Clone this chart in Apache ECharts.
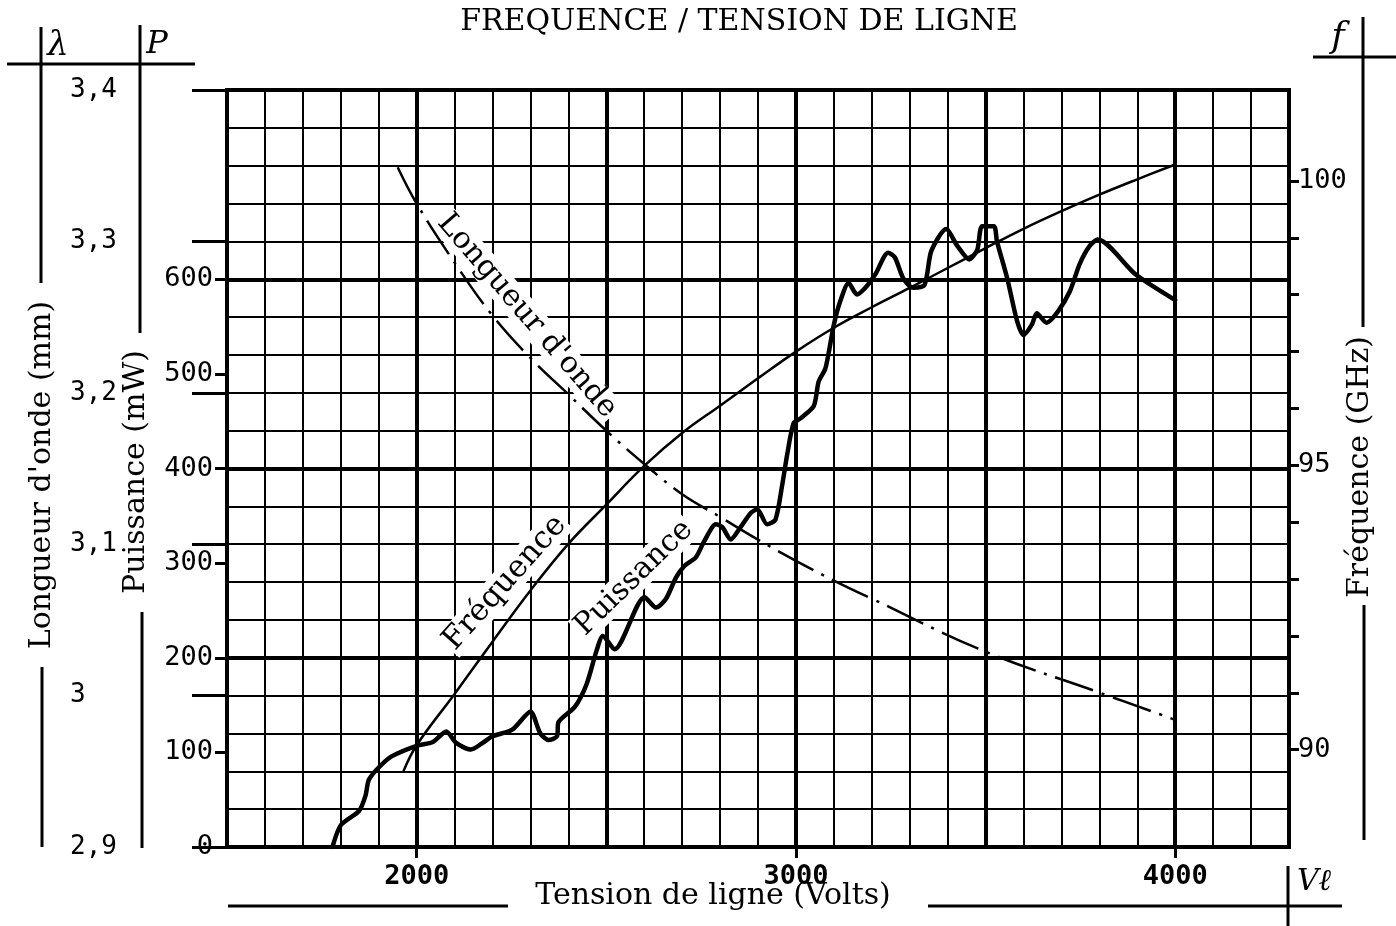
<!DOCTYPE html>
<html>
<head>
<meta charset="utf-8">
<script src="https://cdn.jsdelivr.net/npm/echarts@6/dist/echarts.min.js"></script>
<style>
html,body{margin:0;padding:0;background:#fff;}
#c{width:1396px;height:926px;}
</style>
</head>
<body>
<div id="c"></div>
<script>
// ---- data ----
const voltageMin = 1500;
const voltageMax = 4300;
const voltageLabels = [2000, 3000, 4000];
const powerLabels = [0, 100, 200, 300, 400, 500, 600];
const powerMax = 800;
const wavelengthMin = 2.9;
const wavelengthMax = 3.4;
const freqMin = 88.29;
const freqMax = 101.6;
const freqLabels = [90, 95, 100];
const freqTicks = [90, 91, 92, 93, 94, 95, 96, 97, 98, 99, 100];

// Puissance (mW) vs tension (V)
const powerData = [
  [1778,0],[1800,23],[1848,38],[1865,54],[1874,71],[1900,84],[1935,96],[2000,107],
  [2043,111],[2078,122],[2104,110],[2143,103],[2174,110],[2200,117],[2252,124],
  [2300,143],[2326,120],[2348,113],[2370,117],[2374,132],[2417,148],[2448,172],
  [2474,207],[2491,223],[2522,209],[2601,264],[2631,253],[2657,262],[2684,285],
  [2706,297],[2736,306],[2758,323],[2789,341],[2806,338],[2828,325],[2854,338],
  [2881,353],[2898,357],[2924,341],[2946,346],[2964,383],[2977,415],[2994,448],
  [3012,453],[3047,466],[3060,492],[3078,506],[3100,552],[3117,577],[3139,596],
  [3161,584],[3183,591],[3209,605],[3243,628],[3261,623],[3283,601],[3309,591],
  [3339,594],[3357,630],[3396,653],[3426,635],[3457,621],[3478,631],[3491,656],
  [3522,656],[3530,640],[3557,601],[3583,556],[3600,541],[3622,552],[3635,564],
  [3661,554],[3691,566],[3722,587],[3748,616],[3774,635],[3796,642],[3896,605],
  [4000,578]
];

// Fréquence (GHz) vs tension (V)
const freqData = [
  [1965,89.62],[2000,90.08],[2100,90.98],[2200,91.90],[2300,92.80],[2400,93.62],
  [2500,94.31],[2600,94.99],[2700,95.57],[2800,96.05],[2900,96.53],[3000,97.00],
  [3100,97.42],[3200,97.78],[3300,98.12],[3400,98.47],[3500,98.82],[3600,99.16],
  [3700,99.47],[3800,99.76],[3900,100.03],[4000,100.29]
];

// Longueur d'onde (mm) vs tension (V)
const wavelengthData = [
  [1950,3.349],[2000,3.325],[2100,3.286],[2200,3.251],[2300,3.223],[2400,3.199],
  [2500,3.175],[2600,3.153],[2700,3.133],[2800,3.118],[2900,3.103],[3000,3.089],
  [3100,3.076],[3200,3.064],[3500,3.029],[3800,3.002],[4000,2.984]
];

// ---- styles ----
const SERIF = '"DejaVu Serif", "Liberation Serif", serif';
const DIGITS = '"DejaVu Sans Mono", "Liberation Mono", monospace';
const INK = '#000';

const chart = echarts.init(document.getElementById('c'), null, {renderer: 'canvas'});

function wlFmt(v) {
  const s = (Math.round(v * 10) / 10).toFixed(1);
  return s.endsWith('.0') ? s.slice(0, -2) : s.replace('.', ',');
}

function hLine(x1, y1, x2, y2, w) {
  return {type: 'line', shape: {x1, y1, x2, y2}, style: {stroke: INK, lineWidth: w || 3}, silent: true};
}
function txt(x, y, text, size, opts) {
  opts = opts || {};
  return {
    type: 'text', x, y, rotation: opts.rotation || 0, z: opts.z || 1, silent: true,
    style: Object.assign({
      text, fill: INK, font: (opts.italic ? 'italic ' : '') + size + 'px ' + (opts.family || SERIF),
      align: 'center', verticalAlign: 'middle'
    }, opts.style || {})
  };
}

const option = {
  animation: false,
  backgroundColor: '#fff',
  grid: {left: 227, right: 107, top: 90, bottom: 79, show: true, borderColor: INK, borderWidth: 4, backgroundColor: 'transparent'},
  xAxis: [
    {type: 'value', min: voltageMin, max: voltageMax, interval: 100,
     axisLine: {show: false}, axisTick: {show: false}, axisLabel: {show: false},
     splitLine: {show: true, lineStyle: {color: INK, width: 2}}},
    {type: 'value', min: voltageMin, max: voltageMax, interval: 500,
     axisLine: {show: false}, axisTick: {show: false}, axisLabel: {show: false},
     splitLine: {show: true, lineStyle: {color: INK, width: 4}}},
    {type: 'value', min: voltageMin, max: voltageMax, position: 'bottom',
     axisLine: {show: false},
     axisTick: {show: true, customValues: voltageLabels, length: 11, lineStyle: {color: INK, width: 3}},
     axisLabel: {show: true, customValues: voltageLabels, margin: 16, color: INK,
                 formatter: v => String(v),
                 fontFamily: DIGITS, fontSize: 27, fontWeight: 'bold'},
     splitLine: {show: false}}
  ],
  yAxis: [
    {type: 'value', min: 0, max: powerMax, interval: 40,
     axisLine: {show: false}, axisTick: {show: false}, axisLabel: {show: false},
     splitLine: {show: true, lineStyle: {color: INK, width: 2}}},
    {type: 'value', min: 0, max: powerMax, interval: 200,
     axisLine: {show: false}, axisTick: {show: false}, axisLabel: {show: false},
     splitLine: {show: true, lineStyle: {color: INK, width: 4}}},
    {type: 'value', min: 0, max: powerMax, position: 'left',
     axisLine: {show: false},
     axisTick: {show: true, customValues: powerLabels, length: 12, lineStyle: {color: INK, width: 3}},
     axisLabel: {show: true, customValues: powerLabels, margin: 14, color: INK,
                 formatter: v => String(v),
                 fontFamily: DIGITS, fontSize: 27},
     splitLine: {show: false}},
    {type: 'value', min: wavelengthMin, max: wavelengthMax, interval: 0.1, position: 'left',
     axisLine: {show: false},
     axisTick: {show: true, length: 35, lineStyle: {color: INK, width: 3}},
     axisLabel: {show: true, formatter: wlFmt, align: 'left', margin: 157, color: INK,
                 fontFamily: DIGITS, fontSize: 26},
     splitLine: {show: false}},
    {type: 'value', min: freqMin, max: freqMax, position: 'right',
     axisLine: {show: false},
     axisTick: {show: true, customValues: freqTicks, length: 10, lineStyle: {color: INK, width: 3}},
     axisLabel: {show: true, customValues: freqLabels, margin: 9, color: INK,
                 formatter: v => String(v),
                 fontFamily: DIGITS, fontSize: 27},
     splitLine: {show: false}}
  ],
  series: [
    {name: 'Puissance', type: 'line', xAxisIndex: 0, yAxisIndex: 0, data: powerData,
     showSymbol: false, symbol: 'none', smooth: 0.25, z: 3,
     lineStyle: {color: INK, width: 4.5, cap: 'round', join: 'round'}},
    {name: 'Fréquence', type: 'line', xAxisIndex: 0, yAxisIndex: 4, data: freqData,
     showSymbol: false, symbol: 'none', smooth: 0.4, z: 3,
     lineStyle: {color: INK, width: 2.5}},
    {name: "Longueur d'onde", type: 'line', xAxisIndex: 0, yAxisIndex: 3, data: wavelengthData,
     showSymbol: false, symbol: 'none', smooth: 0.4, z: 3,
     lineStyle: {color: INK, width: 2.5, type: [40, 9, 3, 9]}}
  ],
  graphic: [
    txt(739, 22, 'FREQUENCE / TENSION DE LIGNE', 30),
    // left headers
    hLine(7, 64, 195, 64, 3),
    hLine(41, 27, 41, 283, 3),
    hLine(42, 667, 42, 847, 3),
    hLine(140, 25, 140, 333, 3),
    hLine(142, 612, 142, 848, 3),
    txt(58, 46, 'λ', 34, {italic: true}),
    txt(157, 45, 'P', 32, {italic: true}),
    txt(42, 475, "Longueur d'onde (mm)", 30, {rotation: Math.PI / 2}),
    txt(136, 472, 'Puissance (mW)', 30, {rotation: Math.PI / 2}),
    // right header
    hLine(1313, 57, 1396, 57, 3),
    hLine(1363, 17, 1363, 327, 3),
    hLine(1364, 605, 1364, 840, 3),
    txt(1338, 38, 'f', 36, {italic: true}),
    txt(1360, 467, 'Fréquence (GHz)', 30, {rotation: Math.PI / 2}),
    // bottom
    hLine(228, 906, 508, 906, 3),
    hLine(928, 906, 1342, 906, 3),
    hLine(1288, 866, 1288, 926, 3),
    txt(713, 896, 'Tension de ligne (Volts)', 30),
    txt(1314, 882, 'Vℓ', 30, {italic: true}),
    // curve labels
    txt(527, 316, "Longueur d'onde", 30, {rotation: -0.86, z: 1, style: {backgroundColor: '#fff', padding: [0, 2]}}),
    txt(505, 583, 'Fréquence', 31, {rotation: 0.845, z: 1, style: {backgroundColor: '#fff', padding: [0, 2]}}),
    txt(634, 578, 'Puissance', 30, {rotation: 0.77, z: 1, style: {backgroundColor: '#fff', padding: [0, 2]}})
  ]
};
chart.setOption(option);
</script>
</body>
</html>
